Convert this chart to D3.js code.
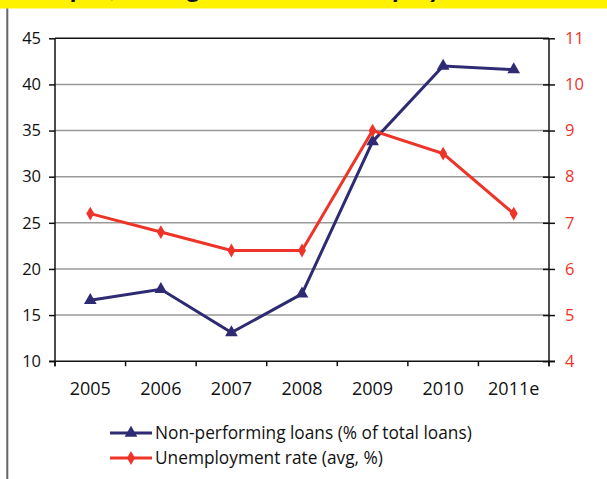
<!DOCTYPE html>
<html><head><meta charset="utf-8">
<script src="https://cdn.jsdelivr.net/npm/d3@7"></script>
<style>body{margin:0;background:#fff;}svg{display:block;font-family:"Open Sans",sans-serif;}</style>
</head><body><svg id="c" width="607" height="479"></svg>
<script>
const categories = ["2005","2006","2007","2008","2009","2010","2011e"];
const nplValues = [16.6, 17.8, 13.1, 17.3, 33.8, 42.0, 41.6];
const unempValues = [7.2, 6.8, 6.4, 6.4, 9.0, 8.5, 7.2];
const leftTicks = [10,15,20,25,30,35,40,45];
const rightTicks = [4,5,6,7,8,9,10,11];
const seriesNames = ["Non-performing loans (% of total loans)", "Unemployment rate (avg, %)"];
const titleText = "Non-performing loans and unemployment";

const svg = d3.select("#c");
const L = 55, R = 549, T = 38.3, B = 361.2;
const navy = "#2E2B72", red = "#EE3429";
const FONT = "'Open Sans',sans-serif";

// banner
svg.append("rect").attr("x",0).attr("y",0).attr("width",607).attr("height",8.5).attr("fill","#FFF200");
svg.append("clipPath").attr("id","bc").append("rect").attr("x",0).attr("y",0).attr("width",607).attr("height",8.5);
svg.append("text").attr("clip-path","url(#bc)").attr("x",12).attr("y",-3)
  .attr("font-size",28).attr("font-weight","bold").attr("font-style","italic").attr("fill","#111")
  .style("font-family","Lato,sans-serif").text(titleText);
svg.append("line").attr("x1",7.3).attr("x2",7.3).attr("y1",8.5).attr("y2",479).attr("stroke","#666").attr("stroke-width",2);

const x = d3.scaleBand().domain(categories).range([L,R]).padding(0);
const yL = d3.scaleLinear().domain([10,45]).range([B,T]);
const yR = d3.scaleLinear().domain([4,11]).range([B,T]);

// gridlines
svg.append("g").selectAll("line").data(leftTicks.filter(t=>t>10 && t<45)).join("line")
  .attr("x1",L).attr("x2",R).attr("y1",d=>yL(d)).attr("y2",d=>yL(d))
  .attr("stroke","#999").attr("stroke-width",1.5);
svg.append("line").attr("x1",L).attr("x2",R).attr("y1",T).attr("y2",T).attr("stroke","#111").attr("stroke-width",1.5);

// left axis
const gl = svg.append("g").attr("transform",`translate(${L},0)`)
  .call(d3.axisLeft(yL).tickValues(leftTicks).tickFormat(d3.format("d")).tickSize(6).tickPadding(8));
gl.select(".domain").attr("stroke","#111").attr("stroke-width",1.5).attr("d",`M0,${T}V${B+5}`);
gl.selectAll(".tick line").attr("stroke","#111").attr("stroke-width",1.5);
gl.selectAll("text").attr("font-size",16.5).attr("fill","#111").style("font-family",FONT);

// right axis
const gr = svg.append("g").attr("transform",`translate(${R},0)`)
  .call(d3.axisRight(yR).tickValues(rightTicks).tickFormat(d3.format("d")).tickSize(6).tickPadding(10));
gr.select(".domain").attr("stroke","#111").attr("stroke-width",1.5).attr("d",`M0,${T}V${B+5}`);
gr.selectAll(".tick line").attr("stroke","#111").attr("stroke-width",1.5).attr("x1",-6);
gr.selectAll("text").attr("font-size",16.5).attr("fill",red).style("font-family",FONT);

// bottom axis
const gb = svg.append("g").attr("transform",`translate(0,${B})`)
  .call(d3.axisBottom(x).tickSize(0).tickPadding(21));
gb.select(".domain").attr("stroke","#111").attr("stroke-width",1.5).attr("d",`M${L-6},0H${R+6}`);
gb.selectAll("text").attr("font-size",18).attr("fill","#111").style("font-family",FONT);
const bounds = categories.map(c=>x(c)).concat([R]);
svg.append("g").selectAll("line").data(bounds).join("line")
  .attr("x1",d=>d).attr("x2",d=>d).attr("y1",B).attr("y2",B+5).attr("stroke","#111").attr("stroke-width",1.5);

const cx = c => x(c) + x.bandwidth()/2;
const tri = d3.symbol().type(d3.symbolTriangle).size(70);
const dia = d3.symbol().type(d3.symbolDiamond).size(55);

// NPL
svg.append("path").datum(nplValues).attr("fill","none").attr("stroke",navy).attr("stroke-width",3)
  .attr("d", d3.line().x((d,i)=>cx(categories[i])).y(d=>yL(d)));
svg.append("g").selectAll("path").data(nplValues).join("path").attr("d",tri).attr("fill",navy)
  .attr("transform",(d,i)=>`translate(${cx(categories[i])},${yL(d)})`);
// Unemployment
svg.append("path").datum(unempValues).attr("fill","none").attr("stroke",red).attr("stroke-width",3)
  .attr("d", d3.line().x((d,i)=>cx(categories[i])).y(d=>yR(d)));
svg.append("g").selectAll("path").data(unempValues).join("path").attr("d",dia).attr("fill",red)
  .attr("transform",(d,i)=>`translate(${cx(categories[i])},${yR(d)})`);

// legend
const leg = svg.append("g");
const legRows = [{name:seriesNames[0],color:navy,sym:tri,y:433},{name:seriesNames[1],color:red,sym:dia,y:458}];
legRows.forEach(r=>{
  leg.append("line").attr("x1",110).attr("x2",152).attr("y1",r.y).attr("y2",r.y).attr("stroke",r.color).attr("stroke-width",3);
  leg.append("path").attr("d",r.sym).attr("fill",r.color).attr("transform",`translate(131,${r.y})`);
  leg.append("text").attr("x",155).attr("y",r.y).attr("dy","0.35em").attr("font-size",17.3).attr("fill","#111").style("font-family",FONT).text(r.name);
});
</script></body></html>
